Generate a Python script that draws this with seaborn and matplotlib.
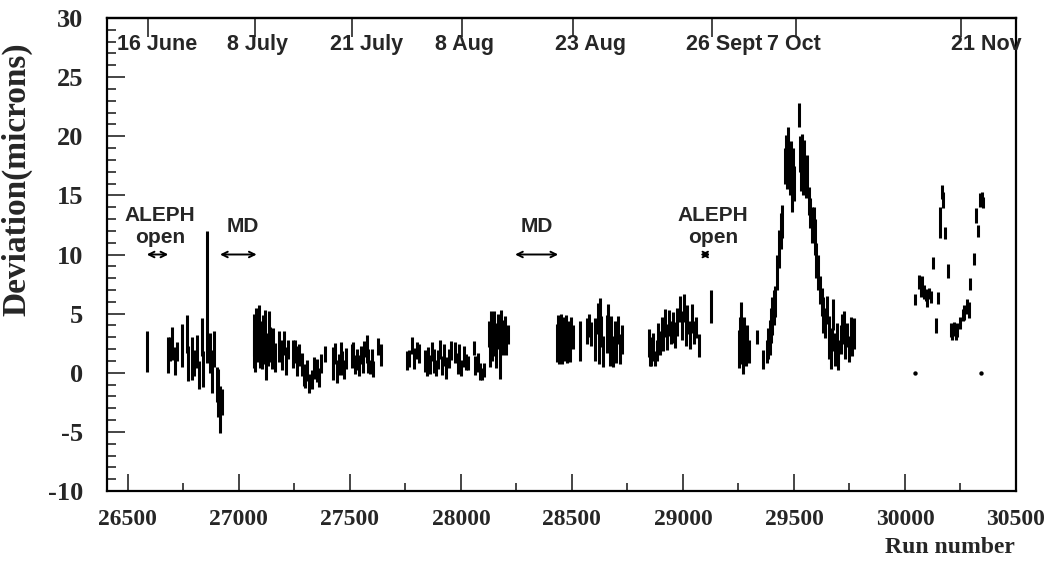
import matplotlib
matplotlib.use("Agg")
import matplotlib.pyplot as plt
from matplotlib.ticker import MultipleLocator
import numpy as np
import pandas as pd
import seaborn as sns

# ---------------------------------------------------------------- data
# run number, measured deviation (microns) and its uncertainty, per fill period
run_number = [
    # June
    26585, 26680, 26690, 26700, 26712, 26722, 26742, 26765, 26770, 26790, 26800,
    26812, 26822, 26834, 26840, 26858, 26872, 26880, 26890, 26902, 26908, 26915, 26922,
    # July, after MD
    27066, 27070, 27074, 27078, 27082, 27086, 27090, 27094, 27098, 27102, 27108,
    27113, 27118, 27124, 27130, 27136, 27142, 27148, 27155, 27162,
    27180, 27192, 27205, 27213, 27222, 27245, 27252, 27262, 27272, 27282, 27292,
    27300, 27308, 27318, 27330, 27340, 27350, 27360, 27372, 27388,
    27425, 27433, 27442, 27450, 27458, 27465, 27475, 27483, 27508, 27515, 27522,
    27530, 27540, 27548, 27557, 27565, 27575, 27582, 27590, 27598, 27605, 27628, 27640,
    # August
    27757, 27765, 27780, 27790, 27800, 27810, 27838, 27845, 27853, 27862, 27870,
    27878, 27887, 27897, 27906, 27915, 27925, 27935, 27945, 27957, 27975, 27985,
    27993, 28002, 28012, 28022, 28032, 28058, 28065, 28075, 28085, 28095, 28105,
    28125, 28130, 28136, 28142, 28148, 28154, 28160, 28168, 28175, 28176, 28182,
    28190, 28198, 28205, 28212,
    # late August / September
    28432, 28437, 28442, 28447, 28452, 28457, 28462, 28467, 28472, 28478, 28484,
    28490, 28497, 28503, 28536, 28566, 28575, 28586, 28605, 28616, 28624, 28627,
    28632, 28640, 28656, 28663, 28670, 28677, 28684, 28692, 28700, 28708, 28716, 28725,
    28845, 28852, 28858, 28866, 28874, 28882, 28888, 28896, 28904, 28912, 28920,
    28928, 28936, 28945, 28955, 28965, 28975, 28988, 28996, 29004, 29012, 29020,
    29030, 29040, 29050, 29060, 29073, 29127,
    # October
    29252, 29257, 29262, 29267, 29272, 29277, 29283, 29290, 29298, 29332, 29362,
    29378, 29384, 29390, 29396, 29402, 29408, 29415, 29425, 29432, 29440, 29447,
    29460, 29465, 29470, 29475, 29480, 29485, 29490, 29495, 29500, 29521, 29525,
    29530, 29535, 29540, 29547, 29553, 29560, 29568, 29574, 29580, 29588, 29595,
    29600, 29608, 29618, 29625, 29632, 29640, 29648, 29656, 29660, 29666, 29672,
    29678, 29685, 29692, 29700, 29710, 29718, 29725, 29732, 29740, 29748, 29755,
    29763, 29770,
    # November
    30046, 30063, 30070, 30078, 30085, 30093, 30100, 30108, 30118, 30127, 30138,
    30148, 30157, 30165, 30172, 30182, 30193, 30205, 30212, 30220, 30228, 30235,
    30250, 30260, 30268, 30280, 30287, 30294, 30309, 30320, 30329, 30339, 30345, 30352,
]

deviation = [
    1.8, 1.5, 2.0, 2.5, 1.0, 1.8, 2.3, 3.3, 0.8, 1.2, 0.8,
    1.8, -0.2, 3.0, 0.3, 6.4, 1.7, 0.1, 2.0, -1.0, -1.7, -3.1, -2.5,
    2.0, 3.2, 1.5, 3.8, 2.5, 3.5, 4.0, 2.2, 3.0, 1.8, 3.4,
    2.4, 3.6, 1.0, 2.0, 3.6, 2.4, 1.6, 2.6, 1.3,
    2.2, 1.5, 2.5, 1.0, 2.0, 1.6, 1.8, 1.0, 1.5, 0.7, -0.2,
    -0.5, 0.2, -0.9, -0.6, 0.4, 0.2, -0.4, 0.8, 1.6,
    0.8, 1.6, 0.1, 0.7, 1.9, 0.8, 0.3, 1.2, 1.4, 1.8, 0.7,
    1.1, 0.6, 1.5, 1.0, 2.0, 2.0, 1.0, 0.5, 1.2, 0.3, 2.2, 1.5,
    1.0, 1.2, 2.3, 1.2, 1.9, 1.6, 1.0, 0.5, 1.2, 0.7, 1.8,
    1.0, 0.4, 1.1, 2.0, 0.6, 1.5, 0.4, 1.2, 1.9, 1.7, 0.8,
    1.6, 0.4, 1.4, 0.9, 0.8, 2.1, 0.6, 0.9, 0.1, -0.1, 0.2,
    3.3, 2.0, 4.2, 2.5, 4.0, 2.8, 1.6, 3.5, 2.6, 0.8, 4.2,
    3.0, 3.6, 2.5, 3.2,
    2.5, 3.5, 2.0, 3.0, 3.8, 2.2, 3.3, 2.6, 3.6, 2.0, 3.0,
    2.4, 3.4, 3.0, 2.7, 3.5, 4.0, 3.3, 2.8, 4.6, 2.5, 5.4,
    3.5, 1.8, 3.3, 4.5, 2.0, 3.5, 1.8, 3.0, 2.3, 3.6, 2.0, 2.8,
    2.5, 1.8, 1.3, 2.2, 1.2, 1.9, 3.0, 2.5, 3.6, 2.8, 4.2,
    3.0, 4.2, 3.4, 3.8, 3.2, 4.3, 5.4, 4.0, 5.5, 3.6, 4.5,
    3.2, 4.6, 3.4, 3.8, 2.3, 5.6,
    2.0, 3.0, 4.5, 2.5, 1.5, 3.2, 2.0, 2.8, 1.8, 3.0, 1.1,
    1.8, 2.5, 3.0, 4.0, 4.8, 5.5, 6.0, 8.5, 10.5, 12.0, 12.8,
    17.5, 18.5, 17.0, 19.0, 16.5, 18.0, 15.0, 17.5, 16.0, 21.8, 18.5,
    17.0, 18.8, 16.5, 18.1, 16.0, 17.0, 14.5, 13.5, 12.5, 13.0, 11.5,
    9.5, 8.5, 7.0, 6.0, 4.9, 4.2, 5.3, 3.8, 2.5, 1.5, 2.8,
    4.9, 2.0, 3.0, 1.5, 2.8, 3.7, 4.0, 2.5, 3.2, 2.0, 3.5,
    2.8, 3.3,
    6.2, 7.7, 7.0, 7.5, 6.8, 6.6, 6.2, 6.7, 6.4, 9.3, 4.0,
    6.3, 12.7, 15.3, 14.6, 11.8, 8.6, 3.6, 3.4, 3.7, 3.3, 3.6,
    4.2, 4.9, 5.1, 5.6, 5.3, 7.5, 9.6, 13.3, 12.0, 14.6, 14.7, 14.4,
]

error = [
    1.7, 1.5, 1.0, 1.4, 1.2, 0.8, 1.8, 1.6, 1.5, 1.8, 1.1,
    1.4, 1.2, 1.6, 1.5, 5.6, 1.7, 1.8, 1.5, 1.5, 2.0, 2.0, 1.1,
    1.6, 1.8, 1.4, 1.7, 1.6, 1.5, 1.7, 1.8, 1.4, 1.5, 1.5,
    1.7, 1.7, 1.6, 1.4, 1.6, 1.5, 1.3, 1.2, 1.2,
    1.3, 1.3, 1.0, 1.2, 0.8, 1.2, 1.0, 1.3, 0.9, 1.0, 0.9,
    0.8, 0.9, 0.8, 0.8, 0.9, 1.0, 0.8, 0.8, 0.7,
    1.4, 0.9, 1.0, 0.9, 0.7, 1.0, 0.8, 0.9, 1.0, 0.8, 0.8,
    0.9, 0.9, 0.8, 1.0, 0.7, 1.2, 1.0, 0.6, 0.8, 0.7, 0.7, 0.9,
    0.8, 0.7, 0.7, 0.9, 0.7, 0.8, 0.9, 0.8, 1.0, 0.8, 0.8,
    1.0, 0.7, 0.8, 0.8, 0.8, 0.9, 0.9, 0.8, 0.8, 0.9, 0.9,
    0.8, 0.7, 0.9, 0.7, 0.6, 0.6, 0.8, 0.8, 0.7, 0.5, 0.6,
    1.1, 1.5, 1.0, 1.5, 1.2, 1.4, 1.2, 1.5, 1.3, 1.3, 1.1,
    1.5, 1.2, 1.0, 0.8,
    1.6, 1.4, 1.3, 1.6, 1.2, 1.5, 1.4, 1.6, 1.3, 1.2, 1.4,
    1.5, 1.3, 1.0, 1.7, 1.1, 1.0, 1.0, 1.8, 1.3, 1.8, 0.9,
    1.3, 1.3, 1.6, 1.3, 1.4, 1.3, 1.3, 1.4, 1.5, 1.2, 1.3, 1.2,
    1.2, 1.2, 0.7, 1.2, 0.6, 0.9, 1.2, 1.0, 1.1, 1.0, 1.2,
    1.1, 1.1, 1.0, 1.3, 1.1, 1.2, 1.1, 1.2, 1.2, 1.3, 1.2,
    1.2, 1.2, 1.0, 0.9, 1.0, 1.4,
    1.6, 1.7, 1.5, 1.8, 1.6, 1.5, 1.4, 1.2, 1.0, 0.6, 0.8,
    1.0, 1.3, 1.5, 1.5, 1.6, 1.5, 1.3, 1.5, 1.6, 1.5, 1.4,
    1.5, 1.6, 1.5, 1.8, 1.5, 1.6, 1.4, 1.5, 1.5, 1.0, 1.5,
    1.6, 1.4, 1.5, 1.6, 1.2, 1.4, 1.2, 1.3, 1.5, 1.0, 1.5,
    1.5, 1.5, 1.2, 1.2, 1.5, 1.3, 1.2, 1.0, 1.3, 1.2, 1.0,
    1.3, 1.4, 1.2, 1.3, 1.2, 1.3, 1.2, 1.3, 1.0, 1.1, 1.2,
    1.4, 1.3,
    0.45, 0.6, 0.6, 0.7, 0.6, 0.5, 0.6, 0.5, 0.5, 0.5, 0.6,
    0.5, 1.3, 0.6, 0.7, 0.5, 0.6, 0.6, 0.6, 0.6, 0.5, 0.6,
    0.5, 0.5, 0.6, 0.6, 0.7, 0.5, 0.5, 0.6, 0.5, 0.6, 0.6, 0.5,
]

# runs with a zero result and no uncertainty
zero_runs = [30046, 30343]
zero_dev = [0.0, 0.0]

# calendar dates along the top edge
date_tick_runs = [26589, 27073, 27511, 28004, 28504, 29133, 29508, 30253]
date_labels = ["16 June", "8 July", "21 July", "8 Aug", "23 Aug", "26 Sept", "7 Oct", "21 Nov"]
date_label_runs = [26631, 27082, 27573, 28014, 28582, 29185, 29501, 30366]

# detector-open and machine-development periods
period_labels = ["ALEPH\nopen", "MD", "MD", "ALEPH\nopen"]
period_label_runs = [26645, 27016, 28343, 29135]
period_start = [26585, 26915, 28244, 29078]
period_end = [26682, 27080, 28438, 29123]

# ---------------------------------------------------------------- style
sns.set_theme(style="ticks")
plt.rcParams["font.family"] = ["Liberation Serif", "DejaVu Serif"]
plt.rcParams["axes.unicode_minus"] = False
SANS = ["Liberation Sans", "DejaVu Sans"]

fig = plt.figure(figsize=(10.57, 5.76), dpi=100)
ax = fig.add_axes([107 / 1057, 1 - 491 / 576, 909 / 1057, 473 / 576])

# each measurement as a vertical bar from (dev - err) to (dev + err)
dev = np.asarray(deviation)
err = np.asarray(error)
bars = pd.DataFrame({
    "bar": np.repeat(np.arange(len(run_number)), 2),
    "run": np.repeat(run_number, 2),
    "value": np.column_stack([dev - err, dev + err]).ravel(),
})
sns.lineplot(data=bars, x="run", y="value", units="bar", estimator=None,
             sort=False, color="black", lw=2.2, ax=ax, legend=False,
             solid_capstyle="butt")

sns.scatterplot(x=zero_runs, y=zero_dev, color="black", s=10, marker="o",
                edgecolor="black", linewidth=0, ax=ax, legend=False)

ax.set_xlim(26406, 30500)
ax.set_ylim(-10, 30)

ax.xaxis.set_major_locator(MultipleLocator(500))
ax.xaxis.set_minor_locator(MultipleLocator(250))
ax.yaxis.set_major_locator(MultipleLocator(5))
ax.yaxis.set_minor_locator(MultipleLocator(1))

ax.tick_params(axis="x", which="major", direction="in", length=12, width=1.2,
               pad=13, labelsize=17, top=False)
ax.tick_params(axis="x", which="minor", direction="in", length=6, width=1.2, top=False)
ax.tick_params(axis="y", which="major", direction="in", length=13, width=1.2,
               pad=17, labelsize=19, right=False)
ax.tick_params(axis="y", which="minor", direction="in", length=6.5, width=1.2, right=False)
for lab in ax.get_xticklabels() + ax.get_yticklabels():
    lab.set_fontweight("bold")

for sp in ax.spines.values():
    sp.set_visible(True)
    sp.set_linewidth(1.6)
    sp.set_color("black")

# date ticks on the top edge
top = ax.secondary_xaxis("top")
top.set_xticks(date_tick_runs)
top.tick_params(direction="in", length=14, width=1.2, labeltop=False)
top.spines["top"].set_linewidth(1.6)
for run, label in zip(date_label_runs, date_labels):
    ax.text(run, 27.8, label, ha="center", va="center", fontsize=15.5,
            fontweight="bold", family=SANS)

# period annotations with double arrows
for run, label, x0, x1 in zip(period_label_runs, period_labels, period_start, period_end):
    ax.text(run, 12.35, label, ha="center", va="center", fontsize=15,
            fontweight="bold", family=SANS, linespacing=1.2)
    ax.annotate("", xy=(x1, 10), xytext=(x0, 10),
                arrowprops=dict(arrowstyle="<->", lw=1.4, color="black",
                                shrinkA=0, shrinkB=0, mutation_scale=10))

ax.set_xlabel("Run number", fontsize=17, fontweight="bold")
ax.set_ylabel("Deviation(microns)", fontsize=24, fontweight="bold")
ax.xaxis.set_label_coords(0.927, -0.097)
ax.yaxis.set_label_coords(-0.0825, 0.66)

fig.savefig("out.png", dpi=100, facecolor="white")
